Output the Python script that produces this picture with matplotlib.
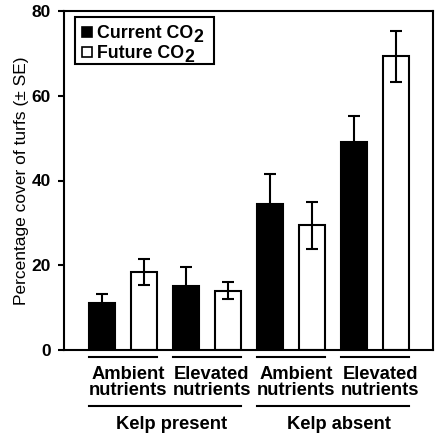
import numpy as np
import matplotlib
matplotlib.use("Agg")
from matplotlib import pyplot as plt
from matplotlib.patches import Rectangle
import matplotlib.transforms as mtransforms

plt.rcParams['font.family'] = ['Liberation Sans', 'DejaVu Sans']

# data
nutrients = ['Ambient\nnutrients', 'Elevated\nnutrients', 'Ambient\nnutrients', 'Elevated\nnutrients']
kelp = ['Kelp present', 'Kelp absent']
series = ['Current CO', 'Future CO']
current = [11.0, 15.2, 34.4, 49.1]
current_se = [2.2, 4.5, 7.1, 6.1]
future = [18.4, 14.0, 29.4, 69.3]
future_se = [3.1, 2.0, 5.5, 6.0]

W, H = 439, 434
AX_L, AX_R, AX_T, AX_B = 64, 433, 11, 350

fig = plt.figure(figsize=(W/100, H/100), dpi=100)
ax = fig.add_axes([AX_L/W, 1-AX_B/H, (AX_R-AX_L)/W, (AX_B-AX_T)/H])

def px(x, y):
    # pixel position (from top-left) -> axes fraction
    return (x-AX_L)/(AX_R-AX_L), (AX_B-y)/(AX_B-AX_T)

width = 0.62
x_cur = np.arange(4)*2
x_fut = x_cur + 1
lw = 1.5
ax.bar(x_cur, current, width, color='black', edgecolor='black', linewidth=lw, zorder=2)
ax.bar(x_fut, future, width, color='white', edgecolor='black', linewidth=lw, zorder=2)
ax.errorbar(x_cur, current, yerr=current_se, fmt='none', ecolor='black',
            elinewidth=lw, capsize=4, capthick=lw, zorder=3)
ax.errorbar(x_fut, future, yerr=future_se, fmt='none', ecolor='black',
            elinewidth=lw, capsize=4, capthick=lw, zorder=3)

ax.set_xlim(-0.9, 7.88)
ax.set_ylim(0, 80)
ax.set_yticks([0, 20, 40, 60, 80])
ax.set_xticks([])
for s in ax.spines.values():
    s.set_linewidth(1.5)
ax.tick_params(axis='y', direction='out', length=4.5, width=1.5, labelsize=12.5, pad=5)
for t in ax.get_yticklabels():
    t.set_fontweight('bold')
ax.set_ylabel('Percentage cover of turfs (± SE)', fontsize=12.5, labelpad=2)

trans = mtransforms.blended_transform_factory(ax.transData, ax.transAxes)
half = width/2
for i in range(4):
    x0 = x_cur[i] - half
    x1 = x_fut[i] + half
    ax.plot([x0, x1], [-0.021, -0.021], color='black', lw=1.5, transform=trans, clip_on=False)
    ax.annotate(nutrients[i], xy=((x0+x1)/2, -0.035), xycoords=trans,
                xytext=(3.6, -3), textcoords='offset points', ha='center', va='top',
                fontsize=13.2, fontweight='bold', linespacing=0.95)
for j in range(2):
    x0 = x_cur[2*j] - half
    x1 = x_fut[2*j+1] + half
    ax.plot([x0, x1], [-0.165, -0.165], color='black', lw=1.5, transform=trans, clip_on=False)
    ax.annotate(kelp[j], xy=((x0+x1)/2, -0.178), xycoords=trans,
                xytext=(4.5, -4), textcoords='offset points', ha='center', va='top',
                fontsize=13.2, fontweight='bold')

# legend drawn by hand so that the "2" can sit full size below the line
fx0, fy1 = px(75, 17)
fx1, fy0 = px(214, 64)
ax.add_patch(Rectangle((fx0, fy0), fx1-fx0, fy1-fy0, transform=ax.transAxes,
                       facecolor='white', edgecolor='black', linewidth=1.5, zorder=5))
colors = ['black', 'white']
for k in range(2):
    cy = 32 + 20*k
    mx0, my1 = px(82, cy-5)
    mx1, my0 = px(92, cy+5)
    ax.add_patch(Rectangle((mx0, my0), mx1-mx0, my1-my0, transform=ax.transAxes,
                           facecolor=colors[k], edgecolor='black', linewidth=1.2, zorder=6))
    tx, ty = px(97, cy+6.5)
    t = ax.text(tx, ty, series[k], transform=ax.transAxes, ha='left', va='baseline',
                fontsize=12.8, fontweight='bold', zorder=6)
    ax.annotate('2', xy=(1, 0), xycoords=t, xytext=(0.3, -2.2), textcoords='offset points',
                ha='left', va='bottom', fontsize=12.8, fontweight='bold', zorder=6)

fig.savefig('out.png', dpi=100)
